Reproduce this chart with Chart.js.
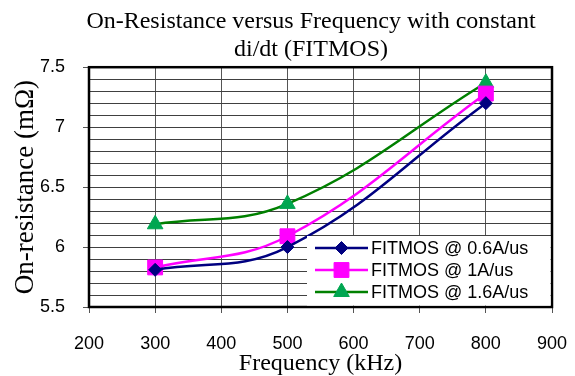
<!DOCTYPE html>
<html>
<head>
<meta charset="utf-8">
<script src="https://cdn.jsdelivr.net/npm/chart.js@4/dist/chart.umd.min.js"></script>
<style>
  html, body { margin: 0; padding: 0; background: #ffffff; }
  #wrap { width: 575px; height: 376px; position: relative; }
</style>
</head>
<body>
<div id="wrap"><canvas id="c" width="575" height="376"></canvas></div>
<script>
// ---- data ----
const frequencies = [300, 500, 800];               // kHz
const fitmos06 = [5.81, 6.00, 7.20];               // mΩ, FITMOS @ 0.6A/us
const fitmos1  = [5.83, 6.09, 7.28];               // mΩ, FITMOS @ 1A/us
const fitmos16 = [6.19, 6.36, 7.37];               // mΩ, FITMOS @ 1.6A/us
const seriesLabels = ['FITMOS @ 0.6A/us', 'FITMOS @ 1A/us', 'FITMOS @ 1.6A/us'];
const xTickRange = [200, 900, 100];
const yTickRange = [5.5, 7.5, 0.1];
const titleLines = ['On-Resistance versus Frequency with constant', 'di/dt (FITMOS)'];
const xTitle = 'Frequency (kHz)';
const yTitle = 'On-resistance (m\u03A9)';

const toPoints = (vals) => frequencies.map((f, i) => ({ x: f, y: vals[i] }));

const styles = [
  { line: '#000080', fill: '#000080', shape: 'rectRot', r: 6.5 },
  { line: '#FF00FF', fill: '#FF00FF', shape: 'rect', r: 10.5 },
  { line: '#008000', fill: '#00A651', shape: 'triangle', r: 9 }
];
const seriesValues = [fitmos06, fitmos1, fitmos16];

const datasets = seriesValues.map((vals, i) => ({
  label: seriesLabels[i],
  data: toPoints(vals),
  borderColor: styles[i].line,
  backgroundColor: styles[i].fill,
  pointBackgroundColor: styles[i].fill,
  pointBorderColor: styles[i].fill,
  pointBorderWidth: 1,
  pointStyle: styles[i].shape,
  pointRadius: styles[i].r,
  pointHoverRadius: styles[i].r,
  borderWidth: 2.5,
  tension: 0.4,
  fill: false
}));

const isMajor = (v) => Math.abs(v * 2 - Math.round(v * 2)) < 1e-6;

const frameAndLegend = {
  id: 'frameAndLegend',
  afterLayout(chart) {
    if (chart.titleBlock) {
      chart.titleBlock.left = 47;
      chart.titleBlock.right = 575;
    }
  },
  beforeDatasetsDraw(chart) {
    const { ctx, chartArea: a } = chart;
    ctx.save();
    ctx.strokeStyle = '#000000';
    ctx.lineWidth = 2.5;
    ctx.strokeRect(a.left, a.top, a.right - a.left, a.bottom - a.top);
    ctx.restore();
  },
  afterDatasetsDraw(chart) {
    const { ctx, chartArea: a } = chart;
    const boxLeft = a.left + 218;
    const boxTop = a.bottom - 71;
    ctx.save();
    ctx.fillStyle = '#ffffff';
    ctx.fillRect(boxLeft, boxTop, a.right - 1.5 - boxLeft, a.bottom - 1.5 - boxTop);
    const rowYs = [boxTop + 12, boxTop + 34, boxTop + 56];
    ctx.font = '18px "Liberation Sans", Arial, sans-serif';
    ctx.textBaseline = 'middle';
    ctx.textAlign = 'left';
    chart.data.datasets.forEach((ds, i) => {
      const y = rowYs[i];
      const x0 = boxLeft + 8, x1 = boxLeft + 61;
      ctx.strokeStyle = ds.borderColor;
      ctx.lineWidth = 2.5;
      ctx.beginPath();
      ctx.moveTo(x0, y);
      ctx.lineTo(x1, y);
      ctx.stroke();
      ctx.fillStyle = ds.pointBackgroundColor;
      ctx.strokeStyle = ds.pointBorderColor;
      ctx.lineWidth = 1;
      Chart.helpers.drawPoint(ctx, { pointStyle: ds.pointStyle, radius: ds.pointRadius, rotation: 0, borderWidth: 1 }, (x0 + x1) / 2, y);
      ctx.fillStyle = '#000000';
      ctx.fillText(ds.label, x1 + 3, y + 1);
    });
    ctx.restore();
  }
};

new Chart(document.getElementById('c'), {
  type: 'line',
  data: { datasets },
  plugins: [frameAndLegend],
  options: {
    responsive: false,
    animation: false,
    devicePixelRatio: 1,
    layout: { padding: { left: 0, right: 23, top: 0, bottom: 0 } },
    plugins: {
      legend: { display: false },
      tooltip: { enabled: false },
      title: {
        display: true,
        text: titleLines,
        color: '#000000',
        font: { family: '"Liberation Serif", "Times New Roman", serif', size: 24, weight: 'normal', lineHeight: 1.15 },
        padding: { top: 8, bottom: 4 }
      }
    },
    scales: {
      x: {
        type: 'linear',
        min: xTickRange[0],
        max: xTickRange[1],
        afterFit: (s) => { s.height = 69; s.paddingLeft = 0; s.paddingRight = 0; },
        ticks: {
          stepSize: xTickRange[2],
          autoSkip: false,
          maxRotation: 0,
          color: '#000000',
          padding: 20,
          font: { family: '"Liberation Sans", Arial, sans-serif', size: 18 }
        },
        grid: { color: '#555555', lineWidth: 1, tickLength: 6, tickColor: '#555555', drawOnChartArea: true },
        border: { display: false },
        title: {
          display: true,
          text: xTitle,
          color: '#000000',
          font: { family: '"Liberation Serif", "Times New Roman", serif', size: 24, weight: 'normal', lineHeight: 1.0 },
          padding: { top: 0, bottom: 0 }
        }
      },
      y: {
        type: 'linear',
        min: yTickRange[0],
        max: yTickRange[1],
        afterFit: (s) => { s.width = 89; },
        ticks: {
          stepSize: yTickRange[2],
          autoSkip: false,
          color: '#000000',
          padding: 18,
          font: { family: '"Liberation Sans", Arial, sans-serif', size: 18 },
          callback: (v) => isMajor(v) ? String(Math.round(v * 10) / 10) : ''
        },
        grid: {
          color: '#404040',
          lineWidth: 1,
          tickLength: 6,
          tickColor: (c) => (c.tick && isMajor(c.tick.value)) ? '#555555' : 'rgba(0,0,0,0)'
        },
        border: { display: false },
        title: {
          display: true,
          text: yTitle,
          color: '#000000',
          font: { family: '"Liberation Serif", "Times New Roman", serif', size: 27, weight: 'normal', lineHeight: 1.2 },
          padding: { top: 10, bottom: 0 }
        }
      }
    }
  }
});
</script>
</body>
</html>
